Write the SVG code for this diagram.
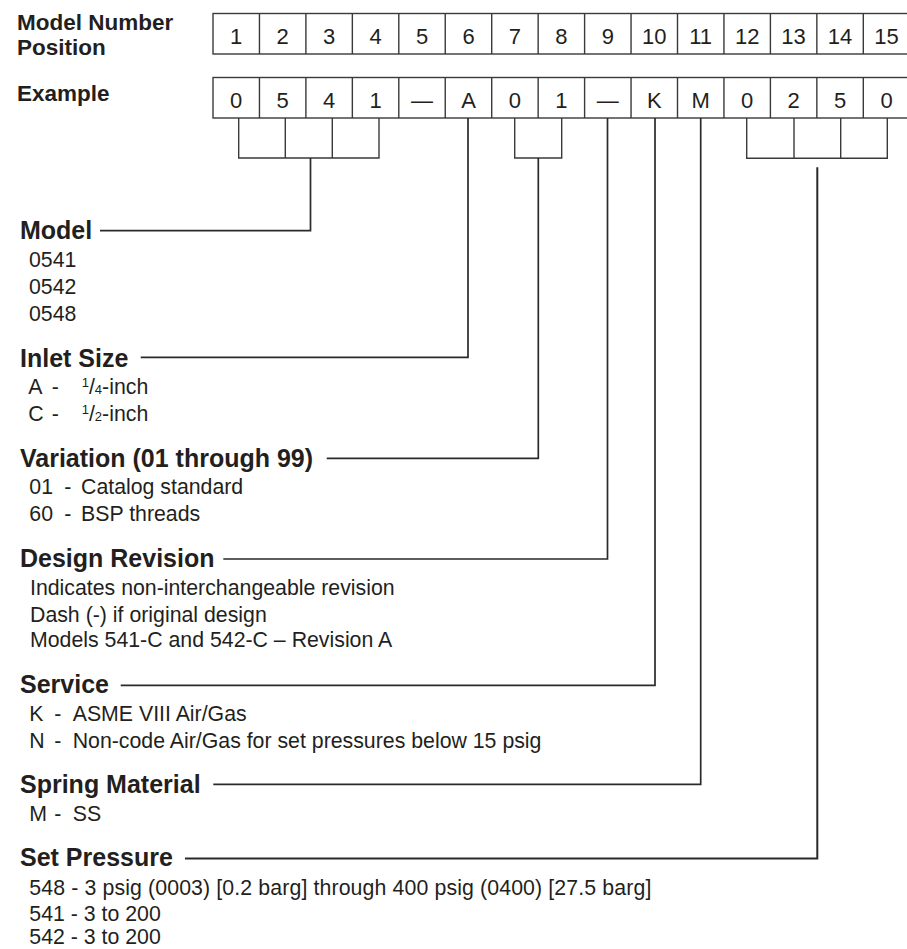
<svg xmlns="http://www.w3.org/2000/svg" width="907" height="949" viewBox="0 0 907 949">
<style>
text{font-family:"Liberation Sans",Arial,Helvetica,sans-serif;fill:#231f20}
.lbl{font-size:22.5px;font-weight:bold}
.hd{font-size:25px;font-weight:bold}
.bd{font-size:21.3px}
.cell{font-size:22px;text-anchor:middle}
.box{fill:none;stroke:#3a3a3a;stroke-width:1.4}
.con{fill:none;stroke:#2a2a2a;stroke-width:1.7}
.sm{font-size:13px}
</style>
<rect width="907" height="949" fill="#ffffff"/>
<g id="header-labels">
<text class="lbl" x="17" y="29.5">Model Number</text>
<text class="lbl" x="17" y="54.5">Position</text>
<text class="lbl" x="17" y="100.5">Example</text>
</g>
<g id="position-row">
<rect class="box" x="213" y="13.5" width="697" height="40.5"/>
<path class="box" d="M259.45 13.5V54M305.9 13.5V54M352.35 13.5V54M398.8 13.5V54M445.25 13.5V54M491.7 13.5V54M538.15 13.5V54M584.6 13.5V54M631.05 13.5V54M677.5 13.5V54M723.95 13.5V54M770.4 13.5V54M816.85 13.5V54M863.3 13.5V54"/>
<text class="cell" x="236.2" y="43.5">1</text>
<text class="cell" x="282.7" y="43.5">2</text>
<text class="cell" x="329.1" y="43.5">3</text>
<text class="cell" x="375.6" y="43.5">4</text>
<text class="cell" x="422" y="43.5">5</text>
<text class="cell" x="468.5" y="43.5">6</text>
<text class="cell" x="514.9" y="43.5">7</text>
<text class="cell" x="561.4" y="43.5">8</text>
<text class="cell" x="607.8" y="43.5">9</text>
<text class="cell" x="654.3" y="43.5">10</text>
<text class="cell" x="700.7" y="43.5">11</text>
<text class="cell" x="747.2" y="43.5">12</text>
<text class="cell" x="793.6" y="43.5">13</text>
<text class="cell" x="840.1" y="43.5">14</text>
<text class="cell" x="886.5" y="43.5">15</text>
</g>
<g id="example-row">
<rect class="box" x="213" y="77.5" width="697" height="40.5"/>
<path class="box" d="M259.45 77.5V118M305.9 77.5V118M352.35 77.5V118M398.8 77.5V118M445.25 77.5V118M491.7 77.5V118M538.15 77.5V118M584.6 77.5V118M631.05 77.5V118M677.5 77.5V118M723.95 77.5V118M770.4 77.5V118M816.85 77.5V118M863.3 77.5V118"/>
<text class="cell" x="236.2" y="107.5">0</text>
<text class="cell" x="282.7" y="107.5">5</text>
<text class="cell" x="329.1" y="107.5">4</text>
<text class="cell" x="375.6" y="107.5">1</text>
<text class="cell" x="422" y="107.5">—</text>
<text class="cell" x="468.5" y="107.5">A</text>
<text class="cell" x="514.9" y="107.5">0</text>
<text class="cell" x="561.4" y="107.5">1</text>
<text class="cell" x="607.8" y="107.5">—</text>
<text class="cell" x="654.3" y="107.5">K</text>
<text class="cell" x="700.7" y="107.5">M</text>
<text class="cell" x="747.2" y="107.5">0</text>
<text class="cell" x="793.6" y="107.5">2</text>
<text class="cell" x="840.1" y="107.5">5</text>
<text class="cell" x="886.5" y="107.5">0</text>
</g>
<g id="connectors">
<path class="box" d="M238.7 118V158H379V118M285.3 118V158M332.3 118V158"/>
<path class="con" d="M310.5 158V230.7H100"/>
<path class="con" d="M468 118V357.3H140.7"/>
<path class="box" d="M514.7 118V158H561.7V118"/>
<path class="con" d="M538.3 158V458.3H326.7"/>
<path class="con" d="M607.5 118V559H223.3"/>
<path class="con" d="M655 118V685.3H120.7"/>
<path class="con" d="M700.7 118V784.3H213.3"/>
<path class="box" d="M746.7 118V158.3H887.3V118M794 118V158.3M840.7 118V158.3"/>
<path class="con" d="M817.3 167.3V858.5H185" style="stroke-width:2"/>
</g>
<g id="model">
<text class="hd" x="20" y="239.3">Model</text>
<text class="bd" x="29" y="267">0541</text>
<text class="bd" x="29" y="294">0542</text>
<text class="bd" x="29" y="320.7">0548</text>
</g>
<g id="inlet-size">
<text class="hd" x="20" y="366.7">Inlet Size</text>
<text class="bd" y="394.3"><tspan x="28.3">A</tspan><tspan x="51.7">-</tspan><tspan x="81.7" class="sm" dy="-7">1</tspan><tspan dy="7">/</tspan><tspan class="sm">4</tspan><tspan>-inch</tspan></text>
<text class="bd" y="420.7"><tspan x="28.3">C</tspan><tspan x="51.7">-</tspan><tspan x="81.7" class="sm" dy="-7">1</tspan><tspan dy="7">/</tspan><tspan class="sm">2</tspan><tspan>-inch</tspan></text>
</g>
<g id="variation">
<text class="hd" x="20" y="466.7">Variation (01 through 99)</text>
<text class="bd" y="494"><tspan x="29.3">01</tspan><tspan x="64.3">-</tspan><tspan x="81">Catalog standard</tspan></text>
<text class="bd" y="520.7"><tspan x="29.3">60</tspan><tspan x="64.3">-</tspan><tspan x="81">BSP threads</tspan></text>
</g>
<g id="design-revision">
<text class="hd" x="20" y="566.7">Design Revision</text>
<text class="bd" x="30" y="595">Indicates non-interchangeable revision</text>
<text class="bd" x="30" y="621.7">Dash (-) if original design</text>
<text class="bd" x="30" y="647.3">Models 541-C and 542-C – Revision A</text>
</g>
<g id="service">
<text class="hd" x="20" y="693.3">Service</text>
<text class="bd" y="721"><tspan x="29.3">K</tspan><tspan x="54.3">-</tspan><tspan x="72.7">ASME VIII Air/Gas</tspan></text>
<text class="bd" y="748.3"><tspan x="29.3">N</tspan><tspan x="54.3">-</tspan><tspan x="72.7">Non-code Air/Gas for set pressures below 15 psig</tspan></text>
</g>
<g id="spring-material">
<text class="hd" x="20" y="792.7">Spring Material</text>
<text class="bd" y="821"><tspan x="29.3">M</tspan><tspan x="54.3">-</tspan><tspan x="72.7">SS</tspan></text>
</g>
<g id="set-pressure">
<text class="hd" x="20" y="866">Set Pressure</text>
<text class="bd" x="29.3" y="895" textLength="622" lengthAdjust="spacing">548 - 3 psig (0003) [0.2 barg] through 400 psig (0400) [27.5 barg]</text>
<text class="bd" x="29.3" y="920.7">541 - 3 to 200</text>
<text class="bd" x="29.3" y="944">542 - 3 to 200</text>
</g>
</svg>
